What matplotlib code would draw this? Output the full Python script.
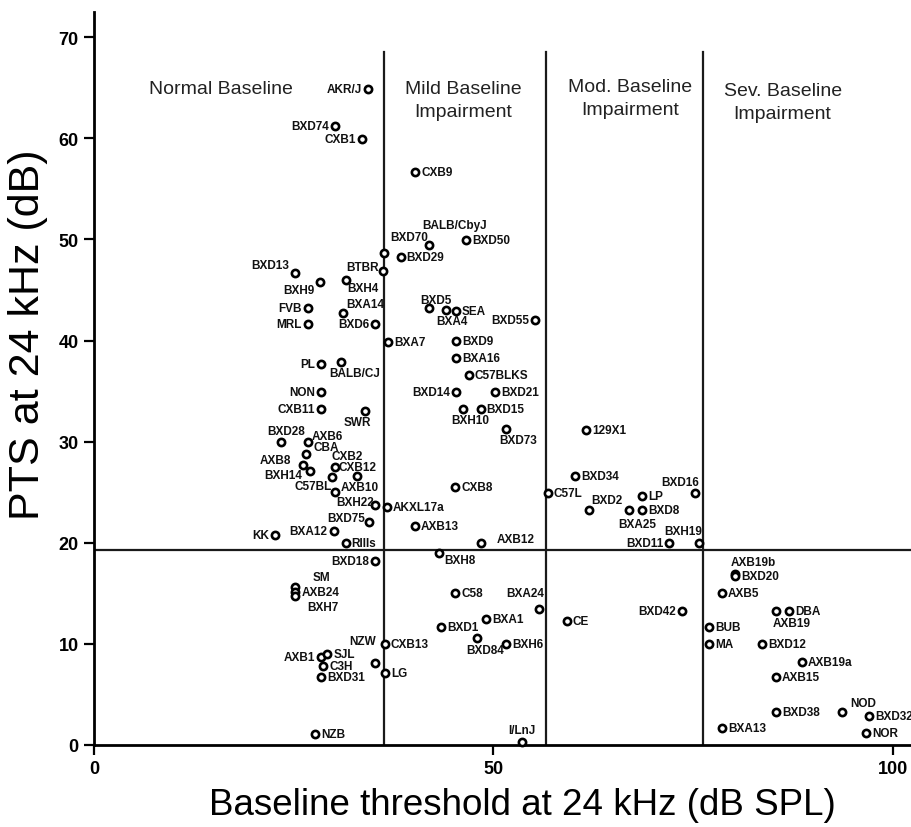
import matplotlib
matplotlib.use("Agg")
import matplotlib.pyplot as plt

plt.rcParams['font.family'] = ['Liberation Sans', 'DejaVu Sans']

# strain data: baseline threshold (dB SPL) and PTS (dB) at 24 kHz
strains = ['AKR/J', 'BXD74', 'CXB1', 'CXB9', 'BALB/CbyJ', 'BXD70', 'BXD50', 'BXD29',
           'BXD13', 'BXH9', 'BXH4', 'BTBR', 'FVB', 'BXA14', 'MRL', 'BXD6', 'BXA7',
           'PL', 'BALB/CJ', 'NON', 'BXD5', 'BXA4', 'SEA', 'BXD55', 'BXD9', 'BXA16',
           'C57BLKS', 'BXD14', 'BXD21', 'CXB11', 'SWR', 'BXH10', 'BXD15', 'BXD73',
           '129X1', 'BXD28', 'AXB6', 'CBA', 'AXB8', 'BXH14', 'CXB2', 'CXB12', 'C57BL',
           'AXB10', 'BXH22', 'AKXL17a', 'BXD75', 'BXA12', 'KK', 'RIIIs', 'BXD18',
           'AXB13', 'BXH8', 'CXB8', 'AXB12', 'BXD34', 'C57L', 'BXD2', 'BXA25', 'LP',
           'BXD8', 'BXD16', 'BXD11', 'BXH19', 'SM', 'AXB24', 'BXH7', 'C58', 'BXA24',
           'BXA1', 'BXD1', 'BXD84', 'BXH6', 'CE', 'BXD42', 'I/LnJ', 'NZW', 'CXB13',
           'LG', 'AXB1', 'SJL', 'C3H', 'BXD31', 'NZB', 'AXB19b', 'BXD20', 'AXB5',
           'AXB19', 'DBA', 'BUB', 'MA', 'BXD12', 'AXB19a', 'AXB15', 'BXD38', 'NOD',
           'BXD32', 'NOR', 'BXA13']
baseline = [34.3, 30.2, 33.5, 40.2, 41.9, 36.3, 46.6, 38.4,
            25.2, 28.3, 31.5, 36.2, 26.8, 31.2, 26.8, 35.2, 36.8,
            28.4, 30.9, 28.4, 41.9, 44.1, 45.3, 55.2, 45.3, 45.3,
            46.9, 45.3, 50.2, 28.4, 33.9, 46.2, 48.4, 51.6,
            61.6, 23.4, 26.8, 26.5, 26.2, 27.0, 30.2, 32.9, 29.8,
            30.2, 35.2, 36.7, 34.4, 30.0, 22.7, 31.5, 35.2,
            40.2, 43.2, 45.2, 48.4, 60.2, 56.8, 62.0, 67.0, 68.6,
            68.6, 75.2, 72.0, 75.7, 25.2, 25.2, 25.2, 45.2, 55.7,
            49.1, 43.5, 47.9, 51.6, 59.2, 73.6, 53.6, 35.2, 36.4,
            36.4, 28.4, 29.2, 28.7, 28.4, 27.7, 80.3, 80.3, 78.6,
            85.4, 87.0, 77.0, 77.0, 83.6, 88.6, 85.4, 85.4, 93.6,
            97.0, 96.7, 78.6]
pts = [64.9, 61.2, 59.9, 56.7, 49.5, 48.7, 49.9, 48.3,
       46.7, 45.8, 46.0, 46.9, 43.2, 42.7, 41.6, 41.6, 39.9,
       37.7, 37.9, 34.9, 43.2, 43.0, 42.9, 42.0, 40.0, 38.3,
       36.6, 34.9, 34.9, 33.2, 33.0, 33.2, 33.2, 31.3,
       31.2, 30.0, 30.0, 28.8, 27.7, 27.1, 27.5, 26.6, 26.5,
       25.0, 23.7, 23.5, 22.1, 21.2, 20.8, 20.0, 18.2,
       21.7, 19.0, 25.5, 20.0, 26.6, 24.9, 23.2, 23.2, 24.6,
       23.2, 24.9, 20.0, 20.0, 15.6, 15.1, 14.7, 15.0, 13.5,
       12.5, 11.7, 10.6, 10.0, 12.3, 13.3, 0.3, 8.1, 10.0,
       7.1, 8.7, 9.0, 7.8, 6.7, 1.1, 16.9, 16.7, 15.0,
       13.3, 13.3, 11.7, 10.0, 10.0, 8.2, 6.7, 3.3, 3.3,
       2.9, 1.2, 1.7]

pts_cutoff = 19.3
severity_bounds = [36.3, 56.6, 76.2]
region_names = ['Normal Baseline', 'Mild Baseline\nImpairment',
                'Mod. Baseline\nImpairment', 'Sev. Baseline\nImpairment']

# label placement (pixel offsets), default right of point
left_labels = {'AKR/J', 'BXD74', 'CXB1', 'FVB', 'MRL', 'BXD6', 'PL', 'NON', 'BXD55',
               'BXD14', 'CXB11', 'BXA12', 'KK', 'BXD18', 'BXD11', 'BXD42', 'AXB1'}
custom = {'BALB/CbyJ': (26, 20), 'BXD70': (25, 16), 'BXD13': (-25, 8), 'BXH9': (-21, -8),
          'BXH4': (17, -8), 'BTBR': (-21, 4), 'BXA14': (22, 9), 'BALB/CJ': (14, -11),
          'BXD5': (7, 8), 'BXA4': (6, -11), 'SWR': (-7, -11), 'BXH10': (7, -11),
          'BXD73': (12, -11), 'BXD28': (5, 11), 'AXB6': (19, 6), 'CBA': (21, 7),
          'CXB2': (12, 11), 'CXB12': (1, 9), 'C57BL': (-19, -9), 'AXB10': (25, 5),
          'BXH22': (-20, 3), 'BXD75': (-23, 4), 'BXH8': (21, -7), 'AXB12': (35, 4),
          'BXD2': (18, 10), 'BXA25': (8, -14), 'BXD16': (-15, 11), 'BXH19': (-16, 12),
          'SM': (26, 10), 'BXH7': (28, -11), 'BXA24': (-14, 16), 'BXD84': (8, -12),
          'I/LnJ': (0, 12), 'NZW': (-13, 22), 'AXB19b': (18, 12), 'AXB19': (16, -12),
          'NOD': (21, 9), 'AXB8': (-28, 5), 'BXH14': (-26, -4)}

fig = plt.figure(figsize=(9.12, 8.28), dpi=100)
ax = fig.add_axes([94 / 912, 1 - 746 / 828, 818 / 912, 733 / 828])

lc = '#1a1a1a'
ax.axhline(pts_cutoff, color=lc, lw=1.6, zorder=1)
for b in severity_bounds:
    ax.plot([b, b], [0, 68.5], color=lc, lw=1.6, zorder=1)

region_pos = [(15.9, 64.9), (46.2, 63.8), (67.1, 64.0), (86.2, 63.6)]
for name, (rx, ry) in zip(region_names, region_pos):
    ax.text(rx, ry, name, ha='center', va='center', fontsize=14,
            color='#222222', linespacing=1.4)

ax.plot(baseline, pts, 'o', ms=5.2, mfc='white', mec='black', mew=1.9,
        zorder=3, clip_on=False)

for s, x, y in zip(strains, baseline, pts):
    if s in custom:
        dx, dy = custom[s]
        ha = 'center'
    elif s in left_labels:
        dx, dy, ha = -6, 0, 'right'
    else:
        dx, dy, ha = 6, 0, 'left'
    ax.annotate(s, (x, y), xytext=(dx, dy), textcoords='offset pixels',
                ha=ha, va='center', fontsize=8.5, fontweight='bold', color='#111111',
                annotation_clip=False)

ax.set_xlim(0, 102.4)
ax.set_ylim(0, 72.5)
ax.set_xticks([0, 50, 100])
ax.set_yticks(range(0, 71, 10))
for sp in ['top', 'right']:
    ax.spines[sp].set_visible(False)
for sp in ['left', 'bottom']:
    ax.spines[sp].set_linewidth(2.0)
ax.tick_params(direction='out', length=7, width=1.6, labelsize=13, pad=4)
for lab in ax.get_xticklabels() + ax.get_yticklabels():
    lab.set_fontweight('bold')

ax.set_xlabel('Baseline threshold at 24 kHz (dB SPL)', fontsize=26.5)
ax.xaxis.set_label_coords(0.524, -0.057)
ax.set_ylabel('PTS at 24 kHz (dB)', fontsize=31)
ax.yaxis.set_label_coords(-0.056, 0.561)

fig.savefig('out.png', dpi=100)
